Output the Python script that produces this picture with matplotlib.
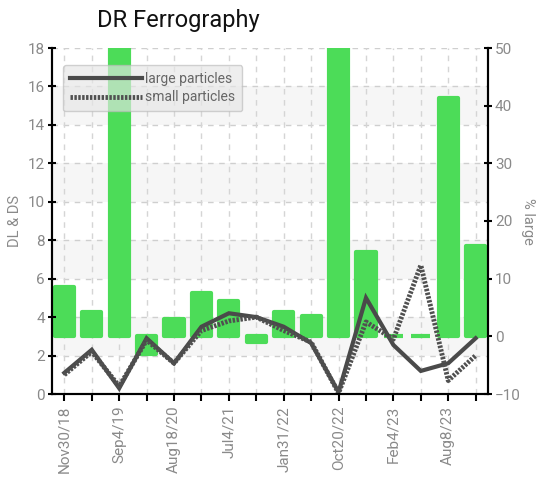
import numpy as np
import matplotlib
matplotlib.use("Agg")
import matplotlib.pyplot as plt

# ===========================
# Data
# ===========================

dates = ["Nov30/18", "", "Sep4/19", "", "Aug18/20", "", "Jul4/21", "",
         "Jan31/22", "", "Oct20/22", "", "Feb4/23", "", "Aug8/23", ""]

pct_large = [8.5, 4.3, 50, -3.0, 3.0, 7.5, 6.1, -1.0,
             4.3, 3.5, 50, 14.6, 0.05, 0.05, 41.3, 15.7]

large_particles = [1.1, 2.3, 0.3, 2.9, 1.6, 3.5, 4.2, 4.0,
                   3.5, 2.65, 0.1, 5.0, 2.55, 1.2, 1.6, 2.9]

small_particles = [1.0, 2.2, 0.4, 2.8, 1.6, 3.3, 3.8, 4.0,
                   3.3, 2.7, 0.05, 3.75, 2.85, 6.7, 0.7, 2.0]

LEFT_MIN, LEFT_MAX = 0, 18
RIGHT_MIN, RIGHT_MAX = -10, 50

GRAY_TEXT = "#8a8a8a"
LINE_COLOR = "#4a4a4a"
BAR_COLOR = "#4cdc58"

plt.rcParams["font.family"] = ["Roboto", "DejaVu Sans"]


def to_pct(v):
    # left axis value -> right axis value
    return RIGHT_MIN + (v - LEFT_MIN) * (RIGHT_MAX - RIGHT_MIN) / (LEFT_MAX - LEFT_MIN)


x = np.arange(len(dates))

fig = plt.figure(figsize=(5.5, 4.8), dpi=100)
ax = fig.add_axes([52 / 550, 1 - 394 / 480, 436 / 550, 346 / 480])
ax2 = ax.twinx()

ax.set_zorder(ax2.get_zorder() + 1)
ax.patch.set_visible(False)

# ===========================
# Background bands + grid (on ax2, behind bars)
# ===========================

for lo in range(2, 18, 4):
    ax2.axhspan(to_pct(lo), to_pct(lo + 2), color="#f6f6f6", zorder=0, lw=0)

for v in range(2, 19, 2):
    ax2.axhline(to_pct(v), color="#cfcfcf", lw=1, ls=(0, (4, 4)), zorder=0.5)

for xi in x:
    ax2.axvline(xi, color="#d5d5d5", lw=1, ls=(0, (4, 4)), zorder=0.5)

# ===========================
# Bars (% large)
# ===========================

ax2.bar(x, pct_large, width=0.7, color=BAR_COLOR, edgecolor=BAR_COLOR,
        linewidth=3, joinstyle="round", zorder=2)

# ===========================
# Lines (DL & DS)
# ===========================

ax.plot(x, large_particles, color=LINE_COLOR, lw=3, solid_joinstyle="miter",
        label="large particles")
ax.plot(x, small_particles, color="#505050", lw=3.5, ls=(0, (0.5, 0.3)),
        label="small particles")

# ===========================
# Axes
# ===========================

ax.set_xlim(-0.45, len(dates) - 0.55)
ax.set_ylim(LEFT_MIN, LEFT_MAX)
ax2.set_ylim(RIGHT_MIN, RIGHT_MAX)

ax.set_yticks(range(0, 19, 2))
ax2.set_yticks(range(-10, 51, 10))

ax.set_xticks(x[::2])
ax.set_xticklabels(dates[::2], rotation=90)
ax.set_xticks(x[1::2], minor=True)

for a in (ax, ax2):
    a.spines["top"].set_visible(False)
    a.spines["left"].set_linewidth(1.5)
    a.spines["right"].set_linewidth(1.5)
    a.spines["bottom"].set_linewidth(1.5)
    a.tick_params(colors="black", labelcolor=GRAY_TEXT, labelsize=11,
                  length=5, width=1.5)

ax.tick_params(axis="y", direction="inout", length=6, pad=2)
ax2.tick_params(axis="y", direction="inout", length=6, pad=2)
ax.tick_params(axis="x", which="minor", length=5, width=1.5, color="black")

ax.set_ylabel("DL & DS", color=GRAY_TEXT, fontsize=10.5)
ax.yaxis.set_label_coords(-0.069, 0.5)
ax2.set_ylabel("% large", color=GRAY_TEXT, fontsize=10.5, rotation=270,
               va="center")
ax2.yaxis.set_label_coords(1.092, 0.5)

fig.text(97 / 550, 1 - 20 / 480, "DR Ferrography", fontsize=17,
         va="center", ha="left", color="#111111")

leg = ax.legend(loc="upper left", bbox_to_anchor=(0.01, 0.97), fontsize=10,
                handlelength=5.2, labelcolor="#666666", frameon=True,
                fancybox=True, shadow=False, borderpad=0.5, framealpha=0.65,
                facecolor="#e6e6e6", edgecolor="#bbbbbb",
                labelspacing=0.3, handletextpad=0.2)

fig.savefig("out.png", dpi=100)
